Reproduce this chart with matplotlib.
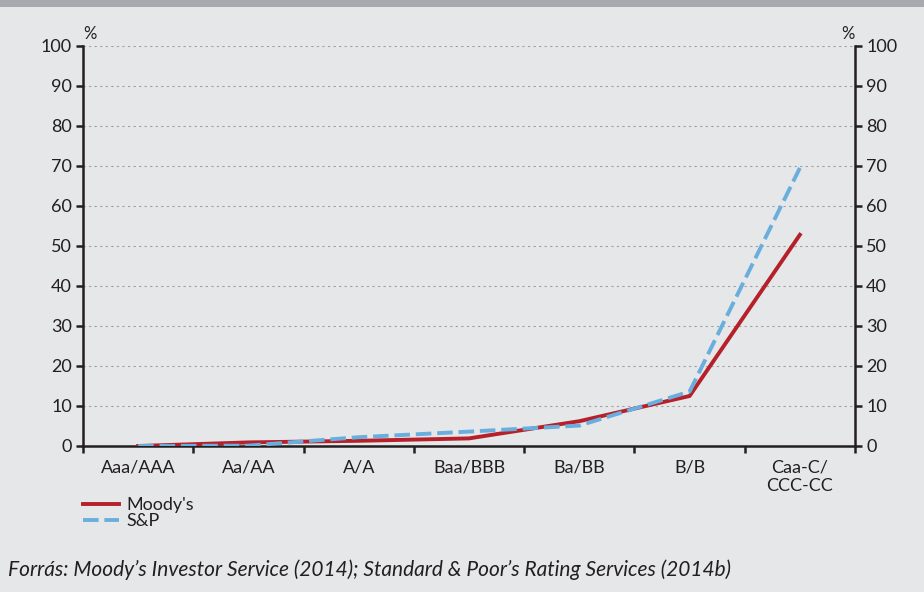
import numpy as np
import matplotlib.pyplot as plt
from matplotlib.ticker import MultipleLocator, FixedLocator

plt.rcParams['font.family'] = ['Lato', 'DejaVu Sans']

categories = ["Aaa/AAA", "Aa/AA", "A/A", "Baa/BBB", "Ba/BB", "B/B", "Caa-C/\nCCC-CC"]
moodys = [0.0, 0.9, 1.3, 1.9, 6.2, 12.5, 52.8]
sp = [0.0, 0.1, 2.2, 3.6, 5.1, 13.6, 69.5]

bg = "#e6e7e8"
axcol = "#231f20"

fig = plt.figure(figsize=(9.24, 5.92), dpi=100, facecolor=bg)
# gray band at top
fig.patches.append(plt.Rectangle((0, 1 - 7 / 592), 1, 7 / 592, transform=fig.transFigure,
                                 facecolor="#a7a9ac", edgecolor="none"))

ax = fig.add_axes([83 / 924, (592 - 446) / 592, (855 - 83) / 924, 400 / 592])
ax.set_facecolor(bg)

x = np.arange(len(categories))
ax.plot(x, moodys, color="#b5202a", lw=2.8, label="Moody's", zorder=3)
ax.plot(x, sp, color="#6aaede", lw=2.8, ls=(0, (4, 1.5)), label="S&P", zorder=4)

ax.set_xlim(-0.5, len(categories) - 0.5)
ax.set_ylim(0, 100)
ax.yaxis.set_major_locator(MultipleLocator(10))
ax.grid(axis="y", color="#9d9fa2", ls=(0, (2, 3)), lw=0.8)
ax.set_axisbelow(True)

ax.spines["top"].set_visible(False)
for s in ["left", "right", "bottom"]:
    ax.spines[s].set_color(axcol)
    ax.spines[s].set_linewidth(1.8)

ax.xaxis.set_major_locator(FixedLocator(np.arange(-0.5, len(categories), 1)))
ax.xaxis.set_major_formatter(plt.NullFormatter())
ax.xaxis.set_minor_locator(FixedLocator(x))
ax.set_xticklabels(categories, minor=True)
ax.tick_params(axis="x", which="major", length=5, width=1.8, color=axcol, direction="out")
ax.tick_params(axis="x", which="minor", length=0, labelsize=13, labelcolor=axcol, pad=10)
ax.tick_params(axis="y", which="major", length=5, width=1.8, color=axcol, direction="out",
               labelsize=13, labelcolor=axcol, left=True, right=True, labelleft=True, labelright=True, pad=3)

ax.text(0.0, 1.01, "%", transform=ax.transAxes, fontsize=12, color=axcol, ha="left", va="bottom")
ax.text(1.0, 1.01, "%", transform=ax.transAxes, fontsize=12, color=axcol, ha="right", va="bottom")

leg = ax.legend(loc="upper left", bbox_to_anchor=(83 / 924, 1 - 497 / 592), bbox_transform=fig.transFigure,
                frameon=False, fontsize=13, handlelength=2.0, handletextpad=0.4, labelspacing=0.0,
                borderaxespad=0, borderpad=0)
for t in leg.get_texts():
    t.set_color(axcol)

fig.text(8 / 924, 1 - 570 / 592, "Forrás: Moody’s Investor Service (2014); Standard & Poor’s Rating Services (2014b)",
         fontsize=15, style="italic", color=axcol, ha="left", va="center")

fig.savefig("out.png", dpi=100, facecolor=bg)
